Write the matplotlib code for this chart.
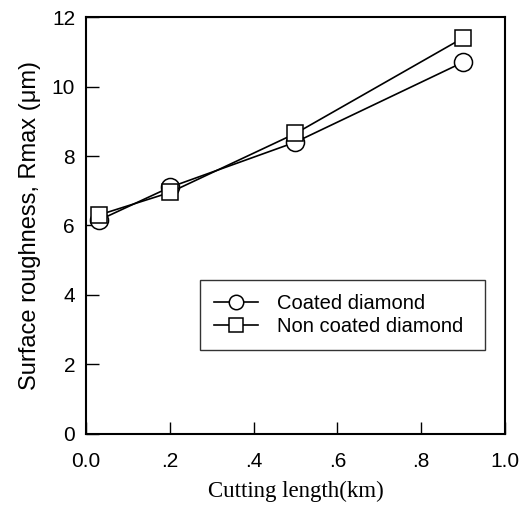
import matplotlib
matplotlib.use('Agg')
import matplotlib.pyplot as plt
from matplotlib.ticker import FixedLocator, FuncFormatter

plt.rcParams['font.family'] = ['Liberation Sans', 'DejaVu Sans']

# cutting length (km)
length = [0.03, 0.2, 0.5, 0.9]
coated = [6.15, 7.1, 8.4, 10.7]
non_coated = [6.3, 6.95, 8.65, 11.4]

fig = plt.figure(figsize=(5.22, 5.05), dpi=100)
ax = fig.add_axes([0.165, 0.141, 0.802, 0.825])

ax.plot(length, coated, color='black', lw=1.2, marker='o', ms=13,
        mfc='white', mec='black', mew=1.1, label='Coated diamond')
ax.plot(length, non_coated, color='black', lw=1.2, marker='s', ms=12,
        mfc='white', mec='black', mew=1.1, label='Non coated diamond')

ax.set_xlim(0, 1.0)
ax.set_ylim(0, 12)
ax.xaxis.set_major_locator(FixedLocator([0, 0.2, 0.4, 0.6, 0.8, 1.0]))
ax.yaxis.set_major_locator(FixedLocator([0, 2, 4, 6, 8, 10, 12]))

def xfmt(v, pos):
    if abs(v) < 1e-9:
        return '0.0'
    if abs(v - 1.0) < 1e-9:
        return '1.0'
    return ('%.1f' % v)[1:]

ax.xaxis.set_major_formatter(FuncFormatter(xfmt))
ax.tick_params(direction='in', length=9, width=1, labelsize=15, pad=13)
ax.tick_params(axis='y', pad=8)
for s in ax.spines.values():
    s.set_linewidth(1.5)

ax.set_xlabel('Cutting length(km)', family='Liberation Serif', fontsize=16.5, labelpad=7)
ax.set_ylabel('Surface roughness, Rmax (\u03bcm)', fontsize=17, labelpad=8)

leg = ax.legend(loc='lower left', bbox_to_anchor=(0.272, 0.201, 0.68, 0.168),
                mode='expand', borderaxespad=0, fontsize=14.5, frameon=True,
                fancybox=False, edgecolor='black', handlelength=2.2,
                borderpad=0.7, labelspacing=0.2, markerscale=0.8,
                handletextpad=0.9)
leg.get_frame().set_linewidth(1.0)

fig.savefig('out.png', dpi=100)
